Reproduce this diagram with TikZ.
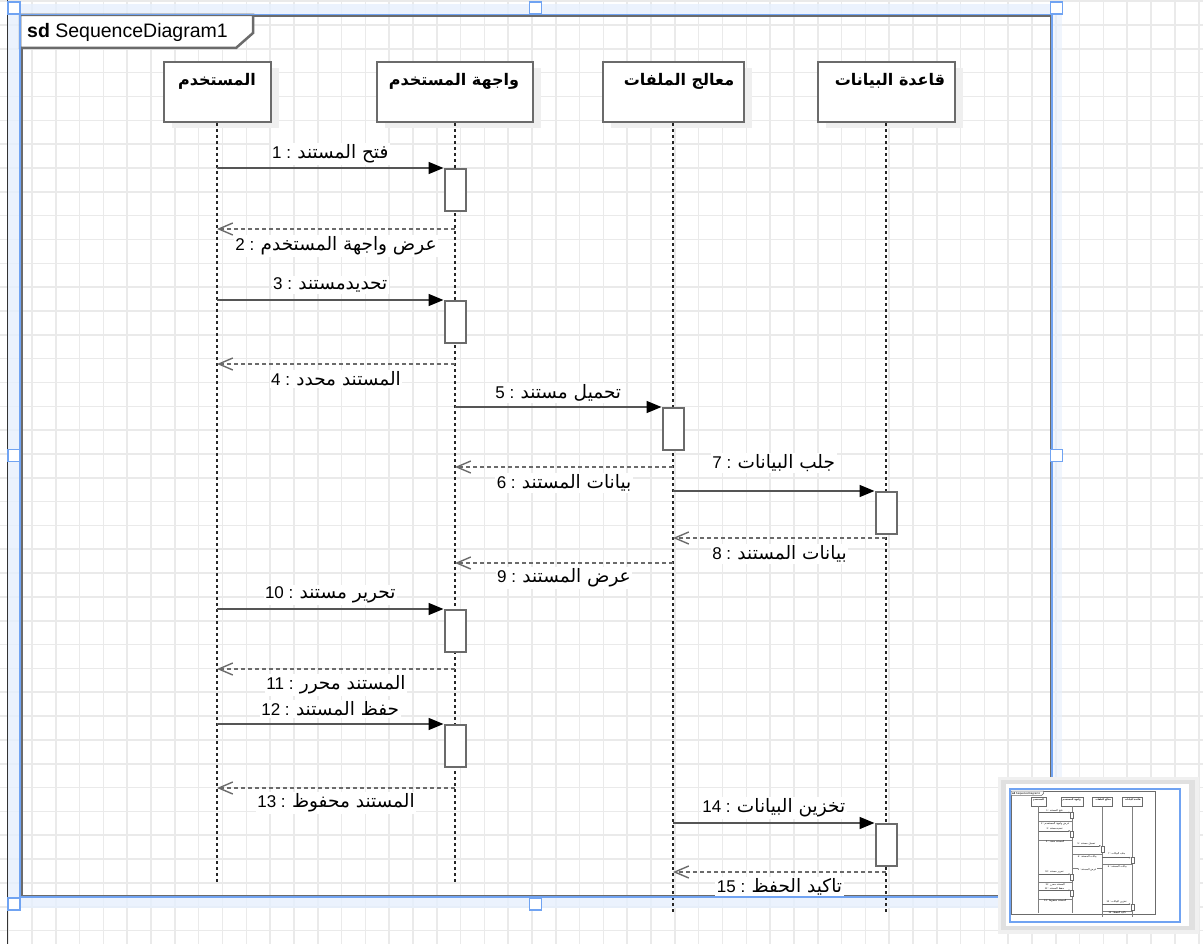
\documentclass[tikz,border=0pt]{standalone}
\usepackage{fontspec}
\setmainfont{Liberation Sans}
\newfontfamily\arabicfont[Script=Arabic]{DejaVu Sans}
\TeXXeTstate=1
\usetikzlibrary{arrows.meta,calc}
\definecolor{gridc}{HTML}{EAEAEA}
\definecolor{selblue}{HTML}{70A3F2}
\definecolor{selfill}{HTML}{E6EFFD}
\definecolor{strokeg}{HTML}{6B6B6B}
\definecolor{msgg}{HTML}{555555}
\definecolor{shadowc}{HTML}{EFEFEF}
\newcommand{\ar}[1]{{\arabicfont\beginR#1\endR}}
\newcommand{\ml}[2]{#1 : {\arabicfont\fontsize{18.5}{20}\selectfont\beginR#2\endR}}
\tikzset{
  gridline/.style={draw=gridc, line width=1.6pt},
  framebox/.style={draw=strokeg, line width=2.5pt},
  headbox/.style={draw=strokeg, fill=white, line width=2pt, minimum height=60pt, inner sep=0pt},
  headshadow/.style={fill=shadowc, minimum height=60pt, inner sep=0pt},
  headtxt/.style={inner sep=0pt, font=\bfseries\fontsize{16}{18}\selectfont},
  act/.style={draw=strokeg, fill=white, line width=2pt, minimum width=21pt, minimum height=42pt, inner sep=0pt, anchor=north},
  lifeline/.style={draw=black!85, line width=1.2pt, dash pattern=on 3pt off 3pt},
  msg/.style={draw=msgg, line width=1.6pt, -{Triangle[length=15pt,width=12pt,color=black]}},
  ret/.style={draw=strokeg, line width=1.4pt, dash pattern=on 4pt off 3pt, -{Straight Barb[length=14pt,width=12pt]}},
  lbl/.style={fill=white, inner sep=1.5pt, font=\fontsize{17}{19}\selectfont},
  selline/.style={draw=selblue, line width=1.4pt},
  handle/.style={draw=selblue, fill=white, line width=1.2pt, minimum size=12pt, inner sep=0pt},
}
\newcommand{\drawseq}{%
  % frame
  \node[framebox, minimum width=1030pt, minimum height=880pt, anchor=north west, inner sep=0pt] (frame) at (20,15) {};
  \draw[framebox, fill=white] (20,15) -- (253,15) -- (253,33) -- (236,48) -- (20,48) -- cycle;
  \node[anchor=west, inner sep=0pt, font=\fontsize{19.5}{22}\selectfont] (title) at (27,32) {\textbf{sd} SequenceDiagram1};
  % lifeline heads
  \node[headshadow, minimum width=107pt] (Us) at (225,98) {};
  \node[headshadow, minimum width=156pt] (Is) at (463,98) {};
  \node[headshadow, minimum width=141pt] (Fs) at (681,98) {};
  \node[headshadow, minimum width=137pt] (Ds) at (894,98) {};
  \node[headbox, minimum width=107pt] (U) at (217,92) {};
  \node[headbox, minimum width=156pt] (I) at (455,92) {};
  \node[headbox, minimum width=141pt] (F) at (673,92) {};
  \node[headbox, minimum width=137pt] (D) at (886,92) {};
  \node[headtxt] (Ut) at (217,81) {\ar{المستخدم}};
  \node[headtxt] (It) at (454,81) {\ar{واجهة المستخدم}};
  \node[headtxt] (Ft) at (679,81) {\ar{معالج الملفات}};
  \node[headtxt] (Dt) at (890,81) {\ar{قاعدة البيانات}};
  % lifelines
  \coordinate (endA) at (0,883);
  \coordinate (endB) at (0,913);
  \draw[lifeline] (U.south) -- (U.south |- endA);
  \draw[lifeline] (I.south) -- (I.south |- endA);
  \draw[lifeline] (F.south) -- (F.south |- endB);
  \draw[lifeline] (D.south) -- (D.south |- endB);
  % activations
  \node[act] (A1) at (455,168) {};
  \node[act] (A3) at (455,300) {};
  \node[act] (A5) at (673,407) {};
  \node[act] (A7) at (886,491) {};
  \node[act] (A10) at (455,609) {};
  \node[act] (A12) at (455,724) {};
  \node[act] (A14) at (886,823) {};
  % return levels
  \coordinate (r2) at (0,229);
  \coordinate (r4) at (0,364);
  \coordinate (r6) at (0,467);
  \coordinate (r8) at (0,538);
  \coordinate (r9) at (0,563);
  \coordinate (r11) at (0,669);
  \coordinate (r13) at (0,788);
  \coordinate (r15) at (0,872);
  % messages
  \draw[msg] (U.south |- A1.north west) -- node[lbl, yshift=14pt] (l1) {\ml{1}{فتح المستند}} (A1.north west);
  \draw[ret] (I.south |- r2) -- node[lbl, yshift=-17pt] (l2) {\ml{2}{عرض واجهة المستخدم}} (U.south |- r2);
  \draw[msg] (U.south |- A3.north west) -- node[lbl, yshift=15pt] (l3) {\ml{3}{تحديدمستند}} (A3.north west);
  \draw[ret] (I.south |- r4) -- node[lbl, yshift=-15pt] (l4) {\ml{4}{المستند محدد}} (U.south |- r4);
  \draw[msg] (I.south |- A5.north west) -- node[lbl, yshift=14pt] (l5) {\ml{5}{تحميل مستند}} (A5.north west);
  \draw[ret] (F.south |- r6) -- node[lbl, yshift=-16pt] (l6) {\ml{6}{بيانات المستند}} (I.south |- r6);
  \draw[msg] (F.south |- A7.north west) -- node[lbl, yshift=28pt] (l7) {\ml{7}{جلب البيانات}} (A7.north west);
  \draw[ret] (D.south |- r8) -- node[lbl, yshift=-16pt] (l8) {\ml{8}{بيانات المستند}} (F.south |- r8);
  \draw[ret] (F.south |- r9) -- node[lbl, yshift=-15pt] (l9) {\ml{9}{عرض المستند}} (I.south |- r9);
  \draw[msg] (U.south |- A10.north west) -- node[lbl, yshift=14pt] (l10) {\ml{10}{تحرير مستند}} (A10.north west);
  \draw[ret] (I.south |- r11) -- node[lbl, yshift=-16pt] (l11) {\ml{11}{المستند محرر}} (U.south |- r11);
  \draw[msg] (U.south |- A12.north west) -- node[lbl, yshift=15pt] (l12) {\ml{12}{حفظ المستند}} (A12.north west);
  \draw[ret] (I.south |- r13) -- node[lbl, yshift=-15pt] (l13) {\ml{13}{المستند محفوظ}} (U.south |- r13);
  \draw[msg] (F.south |- A14.north west) -- node[lbl, yshift=15pt] (l14) {\ml{14}{تخزين البيانات}} (A14.north west);
  \draw[ret] (D.south |- r15) -- node[lbl, yshift=-15pt] (l15) {\ml{15}{تاكيد الحفظ}} (F.south |- r15);
}
\begin{document}
\begin{tikzpicture}[x=1pt, y=-1pt]
  \useasboundingbox (0,0) rectangle (1203,944);
  \fill[white] (0,0) rectangle (1203,944);
  % grid
  \foreach \k in {0,...,50} \draw[gridline] ({8.2+23.81*\k},0) -- ({8.2+23.81*\k},944);
  \foreach \k in {0,...,39} \draw[gridline] (0,{1.2+23.83*\k}) -- (1203,{1.2+23.83*\k});
  % canvas edge
  \draw[black!80, line width=1.5pt] (7.5,0) -- (7.5,944);
  % selection bands
  \fill[selfill, opacity=0.8] (8,4) rectangle (20,910);
  \fill[selfill, opacity=0.8] (20,4) rectangle (1062,15);
  \fill[selfill, opacity=0.8] (20,897) rectangle (1062,908);
  \fill[selfill, opacity=0.6] (1052,15) rectangle (1062,897);
  % diagram
  \drawseq
  % selection outline and handles
  \draw[selline] (20,14.5) rectangle (1052,897);
  \node[handle] (h1) at (14,8) {};
  \node[handle] (h2) at (535.5,8) {};
  \node[handle] (h3) at (1056.5,8) {};
  \node[handle] (h4) at (14,455.5) {};
  \node[handle] (h5) at (1056.5,455.5) {};
  \node[handle] (h6) at (14,904) {};
  \node[handle] (h7) at (535.5,904) {};
  % minimap
  \fill[black!6] (998,777) rectangle (1199,934);
  \fill[black!12] (1001,780) rectangle (1195,930);
  \fill[white] (1006,784) rectangle (1189,926);
  \begin{scope}[shift={(1011,791)}, scale=0.14, shift={(-20,-15)}, transform shape,
    lifeline/.style={draw=black!50, line width=0.25pt},
    msg/.style={draw=black!60, line width=0.35pt, -{Triangle[length=1.8pt,width=1.5pt]}},
    ret/.style={draw=black!50, line width=0.3pt},
    headbox/.append style={line width=0.4pt},
    act/.append style={line width=0.4pt},
    framebox/.append style={line width=0.5pt}]
    \drawseq
  \end{scope}
  \draw[selblue, line width=1.5pt] (1010,789) rectangle (1180,922);
\end{tikzpicture}
\end{document}
